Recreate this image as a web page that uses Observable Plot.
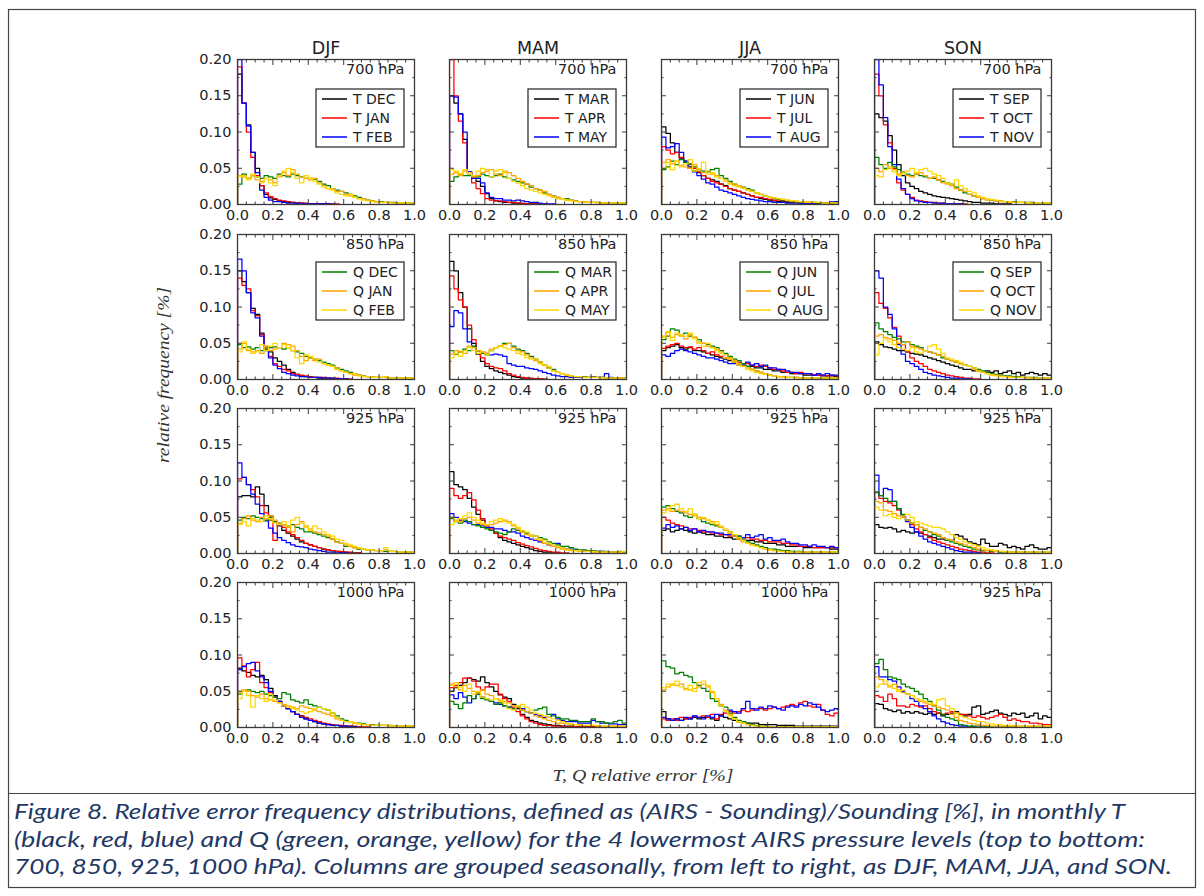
<!DOCTYPE html>
<html>
<head>
<meta charset="utf-8">
<script src="https://cdn.jsdelivr.net/npm/d3@7"></script>
<script src="https://cdn.jsdelivr.net/npm/@observablehq/plot@0.6"></script>
<style>
  body { margin: 0; background: #fff; }
  #fig { position: relative; width: 1204px; height: 896px; overflow: hidden; background: #fff; }
</style>
</head>
<body>
<div id="fig"></div>
<script>
// ---- labels and ticks ----
const seasons = ["DJF", "MAM", "JJA", "SON"];
const seasonMonths = [["DEC", "JAN", "FEB"], ["MAR", "APR", "MAY"], ["JUN", "JUL", "AUG"], ["SEP", "OCT", "NOV"]];
const levelLabels = [
  ["700 hPa", "700 hPa", "700 hPa", "700 hPa"],
  ["850 hPa", "850 hPa", "850 hPa", "850 hPa"],
  ["925 hPa", "925 hPa", "925 hPa", "925 hPa"],
  ["1000 hPa", "1000 hPa", "1000 hPa", "925 hPa"]
];
const xTicks = [0, 0.2, 0.4, 0.6, 0.8, 1.0];
const xMinorTicks = [0.05, 0.1, 0.15, 0.25, 0.3, 0.35, 0.45, 0.5, 0.55, 0.65, 0.7, 0.75, 0.85, 0.9, 0.95];
const yTicks = [0, 0.05, 0.1, 0.15, 0.2];
const yMinorTicks = [0.025, 0.075, 0.125, 0.175];
const binWidth = 0.025;           // 40 bins over [0, 1]
const tColors = ["#000000", "#ff0000", "#0000ff"];
const qColors = ["#008000", "#ffa500", "#ffd700"];

// ---- relative frequency per bin, in thousandths (T: 3 months, Q: 3 months) ----
const DJF_700 = {
  T: [
    [180,140,110,72,50,26,14,9,7,5, 4,3,3,2,2,1,1,1,1,1, 1,1,0,0,0,0,0,0,0,0, 0,0,0,0,0,0,0,0,0,0],
    [190,140,100,65,40,26,16,11,8,6, 5,4,3,2,2,2,1,1,1,1, 1,1,1,0,0,0,0,0,0,0, 0,0,0,0,0,0,0,0,0,0],
    [200,140,108,72,44,20,10,6,4,4, 3,2,2,2,1,1,1,1,1,1, 1,0,0,0,0,0,0,0,0,0, 0,0,0,0,0,0,0,0,0,0]
  ],
  Q: [
    [28,42,36,40,38,36,40,38,36,42, 40,38,42,40,38,36,36,35,32,28, 26,22,20,18,16,14,12,10,8,6, 5,4,4,3,3,3,2,2,2,2],
    [40,38,36,40,34,32,36,34,30,38, 44,40,48,42,38,36,34,36,30,26, 22,22,18,18,14,12,10,8,8,6, 5,4,3,3,3,2,2,2,2,2],
    [38,40,34,42,38,30,36,30,26,40, 46,50,44,36,30,40,36,32,28,24, 22,20,16,14,12,14,10,8,6,5, 4,3,3,3,2,2,2,2,2,2]
  ]
};
const MAM_700 = {
  T: [
    [150,140,125,90,45,38,32,25,15,8, 5,4,3,3,2,2,1,1,1,1, 1,0,0,0,0,0,0,0,0,0, 0,0,0,0,0,0,0,0,0,0],
    [200,150,115,85,45,30,22,15,8,6, 5,5,4,3,3,2,2,1,1,1, 1,1,0,0,0,0,0,0,0,0, 0,0,0,0,0,0,0,0,0,0],
    [150,148,125,100,45,36,36,30,16,10, 8,8,6,6,5,6,5,4,3,3, 2,1,1,1,0,0,0,0,0,0, 0,0,0,0,0,0,0,0,0,0]
  ],
  Q: [
    [32,38,42,40,40,40,38,42,40,38, 40,42,38,36,34,32,30,28,24,22, 20,16,14,12,10,8,8,6,5,4, 4,3,3,3,2,2,2,2,2,2],
    [42,44,40,46,42,38,40,44,46,48, 42,40,46,44,40,36,32,28,26,22, 20,18,14,12,10,8,6,6,5,4, 4,3,3,3,2,2,2,2,2,2],
    [48,46,42,48,44,40,46,50,48,38, 46,48,44,36,32,30,26,22,20,18, 16,14,12,10,8,8,6,5,4,4, 3,3,3,2,2,2,2,2,2,2]
  ]
};
const JJA_700 = {
  T: [
    [107,98,85,72,64,60,52,46,44,40, 36,34,32,28,26,22,20,18,16,14, 12,10,8,7,6,5,4,4,3,3, 3,2,2,2,2,2,2,2,2,2],
    [80,75,70,72,65,58,55,50,45,40, 36,32,30,28,25,22,20,18,16,14, 12,10,10,8,7,6,6,5,4,4, 3,3,3,3,2,2,2,2,2,2],
    [93,78,80,84,72,60,50,45,40,35, 30,28,24,20,18,16,14,12,10,8, 7,6,5,4,4,3,3,3,2,2, 2,2,2,2,2,2,2,2,4,4]
  ],
  Q: [
    [48,52,60,55,62,58,56,52,48,46, 45,48,50,40,36,32,28,26,24,22, 20,16,14,12,10,8,7,6,5,4, 4,3,3,3,3,2,2,2,2,2],
    [58,62,56,60,54,52,50,55,48,44, 46,42,40,36,34,30,28,26,24,20, 18,16,14,12,10,9,8,7,6,5, 4,4,3,3,3,3,2,2,2,2],
    [50,58,48,60,52,56,62,46,50,58, 42,44,38,36,32,28,26,24,22,20, 18,16,14,12,10,9,8,7,6,5, 5,4,4,3,3,3,2,2,3,2]
  ]
};
const SON_700 = {
  T: [
    [125,120,115,95,75,55,40,30,25,22, 18,16,14,12,11,10,9,8,7,6, 5,4,3,3,2,2,2,1,1,1, 1,0,0,0,0,0,0,0,0,0],
    [180,150,110,85,50,30,20,14,10,6, 5,4,3,3,2,2,1,1,1,1, 1,0,0,0,0,0,0,0,0,0, 0,0,0,0,0,0,0,0,0,0],
    [200,165,120,80,55,35,22,14,8,5, 4,3,3,2,2,2,1,1,1,1, 0,0,0,0,0,0,0,0,0,0, 0,0,0,0,0,0,0,0,0,0]
  ],
  Q: [
    [65,55,50,58,52,48,45,42,40,42, 40,38,36,36,34,32,30,28,24,20, 16,14,12,10,8,8,6,5,5,4, 4,4,3,3,3,3,2,2,2,2],
    [50,45,55,50,48,42,45,40,38,42, 44,40,36,38,34,30,28,26,22,20, 18,14,12,10,8,6,6,5,4,4, 3,3,3,3,2,2,2,2,2,2],
    [40,38,48,52,45,40,42,46,50,44, 48,50,46,42,40,36,30,28,34,26, 22,18,16,12,10,8,7,6,5,4, 4,3,3,3,3,2,2,2,2,2]
  ]
};
const DJF_850 = {
  T: [
    [150,135,120,98,90,64,45,38,30,25, 20,14,10,7,5,4,3,3,2,2, 2,1,1,1,1,0,0,0,0,0, 0,0,0,0,0,0,0,0,0,0],
    [140,130,125,95,88,62,42,32,22,18, 14,12,8,7,6,5,4,3,3,3, 2,2,2,1,1,1,0,0,0,0, 0,0,0,0,0,0,0,0,0,0],
    [166,150,120,92,85,60,40,30,20,15, 10,8,6,5,4,4,3,3,3,2, 2,2,1,1,1,0,0,0,0,0, 0,0,0,0,0,0,0,0,0,0]
  ],
  Q: [
    [48,44,45,42,44,40,42,44,45,44, 42,44,40,38,36,32,30,28,26,24, 22,20,16,14,12,10,8,6,5,4, 4,3,3,3,2,2,2,2,2,2],
    [42,50,40,38,40,36,46,40,42,44, 50,48,46,40,32,26,30,26,28,22, 20,18,16,12,10,8,6,6,5,4, 4,3,3,3,2,2,2,2,2,2],
    [38,52,42,36,38,48,40,46,50,44, 48,44,40,30,22,34,32,28,24,22, 20,18,14,12,10,8,8,5,4,4, 3,3,3,4,2,2,2,2,2,2]
  ]
};
const MAM_850 = {
  T: [
    [163,150,120,100,70,50,35,25,18,15, 12,10,8,6,4,3,2,2,1,1, 1,0,0,0,0,0,0,0,0,0, 0,0,0,0,0,0,0,0,0,0],
    [143,125,110,100,75,55,40,30,22,18, 16,15,12,8,6,4,3,2,2,1, 1,1,0,0,0,0,0,0,0,0, 0,0,0,0,0,0,0,0,0,0],
    [73,95,92,70,52,45,40,38,36,34, 35,34,32,22,20,18,18,16,15,14, 12,10,8,6,5,4,4,3,3,3, 3,3,4,3,3,8,3,2,2,2]
  ],
  Q: [
    [40,35,38,42,40,46,40,36,34,40, 44,46,50,50,46,42,40,36,32,28, 24,20,16,14,10,8,6,5,4,4, 4,3,3,3,3,2,2,2,2,2],
    [35,40,38,36,46,44,40,38,36,42, 44,46,48,50,44,40,38,34,30,26, 24,20,16,12,10,8,6,5,4,4, 3,3,3,3,3,2,2,2,2,2],
    [30,36,32,40,44,40,36,38,34,40, 44,46,44,42,40,36,34,30,28,28, 22,20,18,12,10,8,6,5,4,4, 3,3,3,3,2,2,2,2,2,2]
  ]
};
const JJA_850 = {
  T: [
    [40,44,46,48,44,42,44,40,40,38, 36,34,32,30,28,26,24,22,20,18, 18,16,16,14,14,12,12,10,10,8, 8,8,6,6,6,6,5,5,5,4],
    [43,46,48,50,46,44,45,42,44,40, 36,38,34,32,30,28,26,24,22,22, 20,18,20,18,16,14,14,12,10,10, 8,10,8,8,6,6,6,5,6,5],
    [34,32,36,40,42,40,38,36,34,32, 30,30,28,26,24,22,22,20,22,24, 20,22,18,20,16,16,14,14,12,10, 10,8,8,8,6,8,6,8,6,6]
  ],
  Q: [
    [55,60,70,68,62,64,60,58,55,50, 48,46,44,40,36,32,28,26,22,18, 14,12,10,8,6,5,4,4,3,3, 3,2,2,2,2,2,2,2,2,2],
    [60,65,58,62,60,56,62,58,52,50, 46,44,42,38,34,30,26,22,18,16, 14,12,10,8,6,5,4,4,3,3, 3,2,2,2,2,2,2,2,2,2],
    [58,66,54,64,62,60,64,56,50,46, 50,44,40,36,30,28,24,20,18,14, 12,10,8,7,6,5,4,3,3,3, 2,2,2,2,2,2,2,2,2,2]
  ]
};
const SON_850 = {
  T: [
    [52,48,45,44,42,40,40,38,36,35, 34,32,30,28,26,24,22,20,18,16, 14,14,12,12,10,12,10,12,8,10, 12,8,10,6,8,10,8,6,8,6],
    [120,105,98,85,72,60,48,38,30,25, 22,18,14,12,10,8,6,5,4,3, 2,2,1,1,0,0,0,0,0,0, 0,0,0,0,0,0,0,0,0,0],
    [150,140,100,90,70,48,35,25,22,18, 14,10,8,6,5,4,3,2,2,1, 1,1,0,0,0,0,0,0,0,0, 0,0,0,0,0,0,0,0,0,0]
  ],
  Q: [
    [78,70,66,62,58,56,52,52,48,46, 44,40,38,36,34,30,28,26,24,22, 20,18,16,14,12,10,8,7,6,5, 5,4,4,3,3,3,3,2,2,2],
    [60,62,58,56,54,50,48,52,46,44, 42,40,38,36,34,32,28,26,24,22, 20,18,14,12,10,8,7,6,5,4, 4,3,3,3,3,2,2,2,2,2],
    [34,50,56,52,48,44,42,40,44,38, 36,40,46,48,42,36,30,28,26,24, 20,18,16,12,10,8,6,5,4,4, 3,3,3,3,2,2,2,2,2,2]
  ]
};
const DJF_925 = {
  T: [
    [78,80,80,78,92,82,66,52,44,38, 32,28,24,20,16,14,12,10,8,6, 5,4,3,2,2,1,1,1,0,0, 0,0,0,0,0,0,0,0,0,0],
    [103,105,95,88,78,66,56,46,18,40, 36,30,26,22,18,14,12,10,8,6, 5,4,3,3,2,2,1,1,0,0, 0,0,0,0,0,0,0,0,0,0],
    [125,105,95,82,68,55,45,35,28,22, 18,15,12,10,9,8,6,5,4,3, 2,2,1,1,1,0,0,0,0,0, 0,0,0,0,0,0,0,0,0,0]
  ],
  Q: [
    [46,50,48,52,50,48,46,50,44,42, 40,38,40,36,34,30,30,28,26,24, 22,20,16,14,10,10,8,6,6,5, 5,4,4,3,3,3,2,2,2,2],
    [42,48,52,46,44,50,48,52,46,42, 40,36,30,40,44,38,34,30,28,26, 24,20,16,14,12,10,8,7,6,5, 5,4,4,5,3,3,2,2,2,2],
    [40,44,38,48,46,44,52,48,42,40, 44,38,46,50,42,36,32,38,34,30, 26,24,20,18,14,12,10,8,6,5, 5,4,4,8,3,3,2,2,2,2]
  ]
};
const MAM_925 = {
  T: [
    [113,95,92,88,76,64,54,46,38,32, 28,22,18,16,14,12,10,8,6,4, 3,2,2,1,1,0,0,0,0,0, 0,0,0,0,0,0,0,0,0,0],
    [90,80,76,80,84,74,60,48,40,34, 28,24,22,20,18,15,13,11,9,7, 5,4,3,2,2,1,1,0,0,0, 0,0,0,0,0,0,0,0,0,0],
    [55,50,46,44,42,40,40,38,36,36, 34,34,32,30,30,28,24,22,20,18, 16,14,12,10,14,8,6,6,5,4, 4,3,3,3,3,2,2,2,2,2]
  ],
  Q: [
    [48,44,42,46,44,40,38,36,34,32, 30,28,26,30,34,32,30,28,26,24, 22,20,16,14,12,10,10,8,6,5, 5,4,4,3,3,3,2,2,3,2],
    [50,46,44,48,50,46,42,40,38,40, 42,44,46,44,38,34,30,26,24,20, 18,14,12,10,8,6,5,4,4,3, 3,3,2,2,2,2,2,2,2,2],
    [40,44,48,52,56,50,46,42,40,44, 46,48,44,42,40,36,32,30,26,24, 20,18,14,12,10,8,6,5,4,4, 3,3,3,2,2,2,2,2,2,3]
  ]
};
const JJA_925 = {
  T: [
    [32,34,30,32,34,32,30,28,30,28, 26,26,24,24,22,22,20,20,18,18, 18,16,16,14,14,14,12,12,10,10, 10,10,8,8,8,8,8,8,6,6],
    [50,46,42,40,38,36,34,34,32,30, 30,28,28,26,26,24,24,22,22,22, 20,20,18,18,16,16,16,14,14,12, 12,10,10,10,8,8,8,8,8,8],
    [35,40,36,38,34,36,32,34,30,32, 30,30,28,28,26,26,24,24,22,26, 22,24,26,20,22,18,18,20,16,14, 14,12,12,10,12,10,10,8,10,8]
  ],
  Q: [
    [64,66,62,58,56,52,50,54,48,44, 42,40,38,36,32,30,26,24,20,16, 14,12,10,8,6,6,5,4,4,3, 3,3,2,2,2,2,2,2,2,2],
    [60,62,58,60,58,56,54,52,50,48, 46,44,40,36,32,28,24,20,16,14, 12,10,8,6,5,4,3,3,2,2, 2,2,2,2,2,2,2,2,2,2],
    [56,60,66,68,62,58,62,54,48,50, 46,42,44,38,34,30,26,22,18,14, 12,10,8,6,5,4,3,3,2,2, 2,2,2,2,2,2,2,2,2,2]
  ]
};
const SON_925 = {
  T: [
    [40,36,35,36,34,30,32,30,28,30, 28,26,24,22,20,20,18,18,26,24, 20,16,14,12,20,14,10,10,14,12, 8,10,8,6,10,12,8,6,6,8],
    [84,76,72,70,66,60,52,46,40,34, 30,26,22,18,16,14,12,10,8,6, 5,4,3,2,2,1,1,0,0,0, 0,0,0,0,0,0,0,0,0,0],
    [108,80,90,88,72,62,52,44,36,30, 24,20,16,14,12,10,8,6,4,3, 2,2,1,1,0,0,0,0,0,0, 0,0,0,0,0,0,0,0,0,0]
  ],
  Q: [
    [85,80,76,72,72,62,54,46,42,40, 36,32,30,26,24,22,18,16,14,12, 10,8,6,5,4,4,3,3,2,2, 2,2,2,2,2,2,2,2,2,2],
    [72,70,60,58,55,52,50,46,42,40, 36,34,30,28,26,22,20,18,16,14, 12,10,8,6,5,4,4,3,3,2, 2,2,2,2,2,2,2,2,2,2],
    [64,60,52,54,50,48,52,54,50,44, 42,40,38,36,36,34,30,26,22,20, 16,14,12,10,8,6,5,4,3,3, 2,2,2,2,2,2,2,2,2,2]
  ]
};
const DJF_1000 = {
  T: [
    [82,78,76,72,70,72,66,54,44,36, 30,26,22,18,16,12,10,8,6,5, 4,3,3,2,2,2,1,1,0,0, 0,0,0,0,0,0,0,0,0,0],
    [96,85,70,80,90,62,55,48,42,36, 30,26,22,18,16,14,12,10,8,6, 5,4,3,3,2,2,2,1,1,1, 0,0,0,0,0,0,0,0,0,0],
    [80,84,88,90,78,70,62,50,42,36, 30,26,22,18,14,12,10,8,6,5, 4,3,3,2,2,1,1,0,0,0, 0,0,0,0,0,0,0,0,0,0]
  ],
  Q: [
    [46,50,52,50,48,50,46,44,42,40, 48,46,38,36,34,38,32,30,28,26, 24,20,16,12,10,8,6,6,5,4, 4,3,3,3,3,2,2,2,2,2],
    [48,52,50,44,42,46,40,38,36,34, 32,30,28,26,30,28,26,24,22,20, 18,16,12,10,8,8,6,5,4,4, 3,3,3,3,2,2,2,2,2,2],
    [40,50,44,28,44,40,36,46,38,34, 30,28,26,24,22,20,22,26,28,26, 24,20,14,10,8,8,6,5,4,4, 3,3,3,3,3,2,2,2,2,2]
  ]
};
const MAM_1000 = {
  T: [
    [50,55,58,62,68,66,64,70,62,56, 50,45,42,40,32,26,18,14,10,8, 6,5,4,3,3,2,2,2,1,1, 1,1,1,1,1,1,1,1,1,1],
    [55,58,62,68,68,64,56,52,56,60, 60,46,40,36,28,22,16,12,8,6, 4,3,3,2,2,2,1,1,1,1, 1,1,1,1,1,1,1,1,1,1],
    [45,40,48,42,34,40,46,42,40,36, 34,32,30,28,26,28,26,22,20,18, 16,14,14,18,12,10,8,8,8,6, 6,6,10,8,6,6,5,5,4,4]
  ],
  Q: [
    [36,32,26,34,44,40,46,40,38,36, 32,34,30,28,26,28,24,22,20,24, 26,28,18,16,14,12,12,10,10,8, 8,8,12,8,8,6,6,8,10,6],
    [60,56,52,58,54,50,48,52,46,44, 40,38,36,34,30,28,24,22,20,16, 14,12,10,8,6,6,5,4,4,3, 3,3,3,2,2,2,2,2,2,2],
    [58,62,56,50,60,46,50,42,40,38, 40,36,34,26,24,30,32,28,24,20, 18,16,14,12,10,8,6,5,4,4, 3,3,3,3,2,2,2,2,2,2]
  ]
};
const JJA_1000 = {
  T: [
    [22,12,10,12,10,12,12,14,12,14, 14,12,10,16,14,12,10,8,8,6, 6,6,4,4,4,4,3,3,3,3, 2,2,2,2,2,2,2,2,2,2],
    [12,10,12,10,14,12,14,16,14,16, 14,18,12,18,20,22,20,22,24,22, 24,26,26,24,26,28,26,28,30,32, 30,34,36,30,28,32,24,18,16,20],
    [14,12,10,12,10,14,12,16,14,12, 16,14,18,16,22,24,22,20,26,36, 26,24,28,26,30,28,26,24,28,30, 28,32,30,34,32,28,24,22,24,26]
  ],
  Q: [
    [92,84,82,74,76,72,70,62,58,54, 50,40,36,30,28,20,14,10,8,6, 4,3,2,2,1,1,1,1,1,1, 1,1,1,1,1,1,1,1,1,1],
    [52,56,60,58,60,54,52,54,56,60, 56,48,40,32,24,18,12,8,6,4, 3,2,2,1,1,1,1,1,1,1, 1,1,1,1,1,1,1,1,1,1],
    [55,60,58,64,56,52,58,50,62,64, 58,50,40,30,22,16,12,8,6,4, 3,2,2,1,1,1,1,1,1,1, 1,1,1,1,1,1,1,1,1,1]
  ]
};
const SON_1000 = {
  T: [
    [33,32,26,24,22,24,20,22,20,22, 20,18,20,18,20,16,18,20,22,18, 16,18,28,30,18,20,22,24,20,18, 16,20,18,20,14,16,20,12,16,14],
    [44,42,36,46,40,30,30,28,32,30, 28,30,26,22,20,18,20,22,20,18, 18,16,14,16,14,12,14,16,18,14, 10,12,10,8,8,6,6,5,4,4],
    [84,70,70,66,64,56,50,46,40,36, 30,26,22,16,12,8,6,4,3,2, 2,1,1,0,0,0,0,0,0,0, 0,0,0,0,0,0,0,0,0,0]
  ],
  Q: [
    [88,94,80,70,68,66,60,56,54,50, 46,40,36,30,24,18,14,12,10,4, 3,2,2,2,2,1,1,1,1,1, 1,1,1,1,1,1,1,1,1,1],
    [70,66,60,56,60,52,48,46,44,40, 36,34,32,30,28,26,24,18,14,10, 8,6,5,4,3,3,2,2,2,2, 2,2,2,2,2,2,2,2,2,2],
    [56,60,64,58,54,50,52,46,44,40, 38,36,34,32,38,40,30,26,20,16, 14,12,10,8,8,6,5,4,4,3, 3,3,2,2,2,2,2,2,2,2]
  ]
};

const panelData = [
  [DJF_700, MAM_700, JJA_700, SON_700],
  [DJF_850, MAM_850, JJA_850, SON_850],
  [DJF_925, MAM_925, JJA_925, SON_925],
  [DJF_1000, MAM_1000, JJA_1000, SON_1000]
];

// ---- layout (pixels) ----
const colX = [237, 449, 661, 874];
const rowY = [59, 234, 408, 582];
const PW = 177, PH = 145;
const mL = 50, mR = 16, mT = 32, mB = 24;
const FONT = "DejaVu Sans";
const INK = "#222";
const AXIS = "#3a3a3a";
const TICK_FS = 14.5;

// step outline of a histogram (matplotlib histtype="step")
function stepPoints(vals) {
  const pts = [{x: 0, y: 0}];
  vals.forEach((v, i) => pts.push({x: i * binWidth, y: v / 1000}));
  const end = vals.length * binWidth;
  pts.push({x: end, y: vals[vals.length - 1] / 1000});
  pts.push({x: end, y: 0});
  return pts;
}

const fig = document.getElementById("fig");
const blank = () => "";

seasons.forEach((season, c) => {
  levelLabels.forEach((row, r) => {
    const d = panelData[r][c];
    const series = [
      ...d.T.map((vals, k) => ({vals, color: tColors[k]})),
      ...d.Q.map((vals, k) => ({vals, color: qColors[k]}))
    ];
    const marks = [
      ...series.map(s => Plot.line(stepPoints(s.vals), {
        x: "x", y: "y", curve: "step-after", stroke: s.color, strokeWidth: 1.25, clip: true
      })),
      Plot.frame({stroke: AXIS, strokeWidth: 1.3}),
      Plot.axisX({anchor: "bottom", ticks: xTicks, tickSize: -5, tickPadding: 10, stroke: AXIS,
        tickFormat: d3.format(".1f"), fontFamily: FONT, fontSize: TICK_FS, fill: INK, label: null}),
      Plot.axisX({anchor: "bottom", ticks: xMinorTicks, tickSize: -2.5, stroke: AXIS, tickFormat: blank, label: null}),
      Plot.axisX({anchor: "top", ticks: xTicks, tickSize: -5, stroke: AXIS, tickFormat: blank, label: null}),
      Plot.axisX({anchor: "top", ticks: xMinorTicks, tickSize: -2.5, stroke: AXIS, tickFormat: blank, label: null}),
      Plot.axisY({anchor: "left", ticks: yTicks, tickSize: -5, tickPadding: 11, stroke: AXIS,
        tickFormat: c === 0 ? d3.format(".2f") : blank, fontFamily: FONT, fontSize: TICK_FS, fill: INK, label: null}),
      Plot.axisY({anchor: "left", ticks: yMinorTicks, tickSize: -2.5, stroke: AXIS, tickFormat: blank, label: null}),
      Plot.axisY({anchor: "right", ticks: yTicks, tickSize: -5, stroke: AXIS, tickFormat: blank, label: null}),
      Plot.axisY({anchor: "right", ticks: yMinorTicks, tickSize: -2.5, stroke: AXIS, tickFormat: blank, label: null}),
      Plot.text([row[c]], {text: t => t, frameAnchor: "top-right", dx: -10, dy: 4,
        fontFamily: FONT, fontSize: TICK_FS, fill: INK})
    ];
    if (r === 0) {
      marks.push(Plot.text([season], {text: t => t, frameAnchor: "top", lineAnchor: "middle", dy: -11,
        fontFamily: FONT, fontSize: 17.5, fill: INK}));
    }
    const svg = Plot.plot({
      width: PW + mL + mR,
      height: PH + mT + mB,
      marginLeft: mL, marginRight: mR, marginTop: mT, marginBottom: mB,
      x: {domain: [0, 1]},
      y: {domain: [0, 0.2]},
      style: {fontFamily: FONT, fontSize: "14px", color: INK, background: "none", overflow: "visible"},
      marks
    });
    svg.style.position = "absolute";
    svg.style.left = (colX[c] - mL) + "px";
    svg.style.top = (rowY[r] - mT) + "px";
    svg.style.maxWidth = "none";

    // legend box (top two rows: T months, then Q months)
    if (r < 2) {
      const boxTop = mT + (r === 0 ? 30 : 28);
      const boxLeft = mL + 79;
      const g = d3.select(svg).append("g")
        .attr("font-family", FONT).attr("font-size", 14).attr("text-anchor", "start");
      g.append("rect").attr("x", boxLeft).attr("y", boxTop).attr("width", 88).attr("height", 58)
        .attr("fill", "#fff").attr("stroke", "#222").attr("stroke-width", 1.2);
      const colors = r === 0 ? tColors : qColors;
      const prefix = r === 0 ? "T " : "Q ";
      seasonMonths[c].forEach((m, k) => {
        const yy = boxTop + 10 + k * 19;
        g.append("line").attr("x1", boxLeft + 6).attr("x2", boxLeft + 31).attr("y1", yy).attr("y2", yy)
          .attr("stroke", colors[k]).attr("stroke-width", 1.5);
        g.append("text").attr("x", boxLeft + 37).attr("y", yy).attr("dy", "0.36em")
          .attr("text-anchor", "start").attr("fill", INK).text(prefix + m);
      });
    }
    fig.appendChild(svg);
  });
});

// ---- figure frame, axis titles and caption ----
const over = d3.select(fig).append("svg")
  .attr("width", 1204).attr("height", 896)
  .style("position", "absolute").style("left", "0px").style("top", "0px");

over.append("rect").attr("x", 8.5).attr("y", 9.5).attr("width", 1187).attr("height", 878)
  .attr("fill", "none").attr("stroke", "#444").attr("stroke-width", 1.2);
over.append("line").attr("x1", 8.5).attr("x2", 1195.5).attr("y1", 793.5).attr("y2", 793.5)
  .attr("stroke", "#444").attr("stroke-width", 1.2);

over.append("text")
  .attr("transform", "translate(169,375) rotate(-90)")
  .attr("text-anchor", "middle")
  .attr("font-family", "'Liberation Serif', serif").attr("font-style", "italic").attr("font-size", 17)
  .attr("fill", "#333")
  .attr("textLength", 176).attr("lengthAdjust", "spacingAndGlyphs")
  .text("relative frequency [%]");

over.append("text")
  .attr("x", 643).attr("y", 781)
  .attr("text-anchor", "middle")
  .attr("font-family", "'Liberation Serif', serif").attr("font-style", "italic").attr("font-size", 17)
  .attr("fill", "#333")
  .attr("textLength", 181).attr("lengthAdjust", "spacingAndGlyphs")
  .text("T, Q relative error [%]");

const captionLines = [
  "Figure 8. Relative error frequency distributions, defined as (AIRS - Sounding)/Sounding [%], in monthly T",
  "(black, red, blue) and Q (green, orange, yellow) for the 4 lowermost AIRS pressure levels (top to bottom:",
  "700, 850, 925, 1000 hPa). Columns are grouped seasonally, from left to right, as DJF, MAM, JJA, and SON."
];
const captionWidths = [1111, 1131, 1158];
captionLines.forEach((line, i) => {
  over.append("text")
    .attr("x", 14).attr("y", 819 + i * 27.5)
    .attr("font-family", "Lato, 'Open Sans', sans-serif").attr("font-style", "italic").attr("font-size", 21)
    .attr("fill", "#1f3864")
    .attr("textLength", captionWidths[i]).attr("lengthAdjust", "spacingAndGlyphs")
    .text(line);
});
</script>
</body>
</html>
